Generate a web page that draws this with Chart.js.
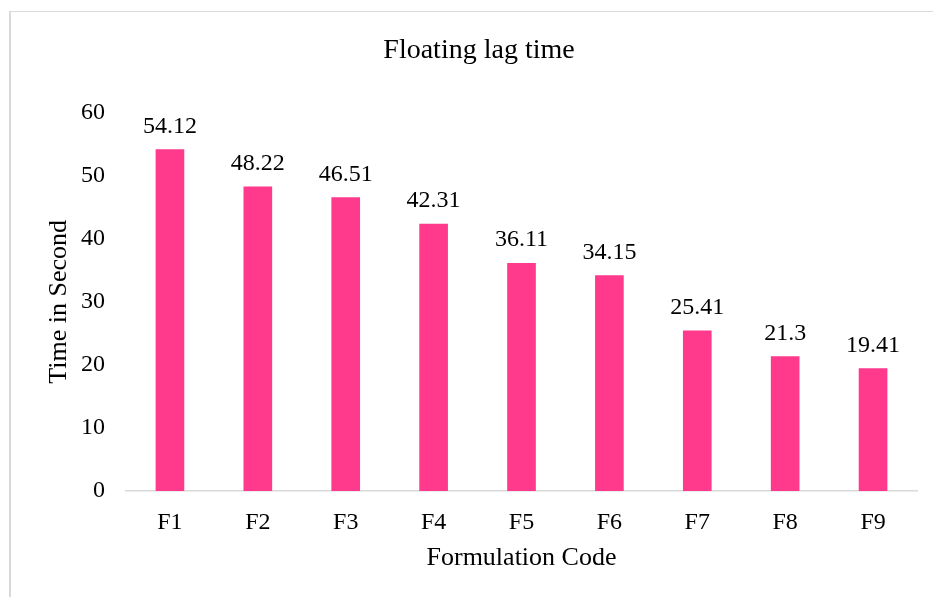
<!DOCTYPE html>
<html>
<head>
<meta charset="utf-8">
<title>Floating lag time</title>
<script src="https://cdn.jsdelivr.net/npm/chart.js@4"></script>
<style>
    html, body { margin: 0; padding: 0; background: #fff; overflow: hidden; width: 933px; height: 597px; }
    #frame {
        position: absolute; left: 9px; top: 11px; width: 960px; height: 620px;
        border-left: 2px solid #d9d9d9; border-top: 1px solid #d9d9d9;
    }
    #wrap { position: absolute; left: 9px; top: 11px; width: 940px; height: 586px; }
</style>
</head>
<body>
<div id="frame"></div>
<div id="wrap"><canvas id="lagChart"></canvas></div>
<script>
// values
const formulationCodes = ['F1', 'F2', 'F3', 'F4', 'F5', 'F6', 'F7', 'F8', 'F9'];
const lagTimes = [54.12, 48.22, 46.51, 42.31, 36.11, 34.15, 25.41, 21.3, 19.41];
const yTicks = [0, 10, 20, 30, 40, 50, 60];

const SERIF = '"Liberation Serif", "Times New Roman", serif';

// draws the number above every bar (no datalabels plugin offline)
const barValues = {
    id: 'barValues',
    afterDatasetsDraw(chart) {
        const ctx = chart.ctx;
        ctx.save();
        ctx.font = '24px ' + SERIF;
        ctx.fillStyle = '#000';
        ctx.textAlign = 'center';
        ctx.textBaseline = 'alphabetic';
        chart.getDatasetMeta(0).data.forEach((bar, i) => {
            ctx.fillText(String(lagTimes[i]), bar.x, bar.y - 17);
        });
        ctx.restore();
    }
};

const ctx = document.getElementById('lagChart').getContext('2d');
new Chart(ctx, {
    type: 'bar',
    data: {
        labels: formulationCodes,
        datasets: [{
            data: lagTimes,
            backgroundColor: '#ff3a8c',
            borderWidth: 0,
            barThickness: 28
        }]
    },
    options: {
        responsive: true,
        maintainAspectRatio: false,
        devicePixelRatio: 1,
        animation: false,
        // left padding keeps the title centred on the whole frame like the original
        layout: { padding: { left: 32, right: 32, top: 0, bottom: 0 } },
        plugins: {
            legend: { display: false },
            tooltip: { enabled: false },
            title: {
                display: true,
                text: 'Floating lag time',
                color: '#000',
                font: { family: SERIF, size: 28, weight: 'normal' },
                padding: { top: 23, bottom: 45 }
            }
        },
        scales: {
            x: {
                grid: { display: false, drawTicks: false, tickLength: 0 },
                border: { display: true, color: '#d9d9d9', width: 1.5 },
                ticks: { color: '#000', padding: 17, font: { family: SERIF, size: 24 } },
                title: {
                    display: true,
                    text: 'Formulation Code',
                    color: '#000',
                    font: { family: SERIF, size: 26 },
                    padding: { top: 0, bottom: 23 }
                },
                afterFit(scale) { scale.height = 106; }
            },
            y: {
                min: 0,
                max: 60,
                afterBuildTicks(scale) { scale.ticks = yTicks.map(v => ({ value: v })); },
                grid: { display: false, drawTicks: false, tickLength: 0 },
                border: { display: false },
                ticks: { color: '#000', padding: 21, font: { family: SERIF, size: 24 } },
                title: {
                    display: true,
                    text: 'Time in Second',
                    color: '#000',
                    font: { family: SERIF, size: 26 },
                    padding: { top: 3, bottom: 0 }
                },
                afterFit(scale) { scale.width = 85; }
            }
        }
    },
    plugins: [barValues]
});
</script>
</body>
</html>
